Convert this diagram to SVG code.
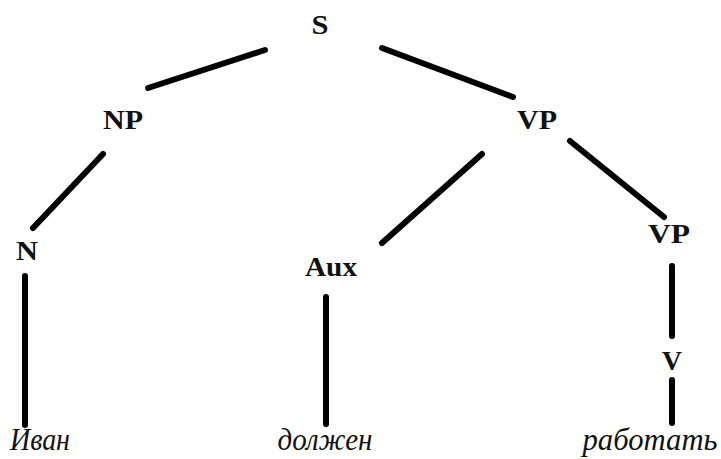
<svg xmlns="http://www.w3.org/2000/svg" width="721" height="459" viewBox="0 0 721 459">
<style>
.lbl{font-family:"Liberation Serif",serif;font-weight:bold;font-size:28px;fill:#111;text-anchor:middle}
.wrd{font-family:"Liberation Serif",serif;font-style:italic;font-size:31px;fill:#111;text-anchor:middle}
.edge{stroke:#000;stroke-width:6;stroke-linecap:round;fill:none}
</style>
<rect width="721" height="459" fill="#fff"/>
<g id="connectors">
<line class="edge" x1="148" y1="88" x2="265" y2="50"/>
<line class="edge" x1="382" y1="48" x2="513" y2="97"/>
<line class="edge" x1="103" y1="154" x2="33" y2="228"/>
<line class="edge" x1="482" y1="154" x2="382" y2="243"/>
<line class="edge" x1="570" y1="141" x2="664" y2="217"/>
<line class="edge" x1="25" y1="276" x2="25" y2="425"/>
<line class="edge" x1="326" y1="297" x2="326" y2="424"/>
<line class="edge" x1="672" y1="266" x2="672" y2="336"/>
<line class="edge" x1="672" y1="380" x2="672" y2="423"/>
</g>
<g id="S"><text class="lbl" x="320" y="34" textLength="17" lengthAdjust="spacingAndGlyphs">S</text></g>
<g id="NP"><text class="lbl" x="123" y="129" textLength="40" lengthAdjust="spacingAndGlyphs">NP</text></g>
<g id="VP1"><text class="lbl" x="537" y="129" textLength="40" lengthAdjust="spacingAndGlyphs">VP</text></g>
<g id="N"><text class="lbl" x="27" y="260" textLength="22" lengthAdjust="spacingAndGlyphs">N</text></g>
<g id="Aux"><text class="lbl" x="331" y="276" textLength="52" lengthAdjust="spacingAndGlyphs">Aux</text></g>
<g id="VP2"><text class="lbl" x="669" y="243" textLength="42" lengthAdjust="spacingAndGlyphs">VP</text></g>
<g id="V"><text class="lbl" x="672" y="370" textLength="20" lengthAdjust="spacingAndGlyphs">V</text></g>
<g id="w1"><text class="wrd" x="40" y="450" textLength="60" lengthAdjust="spacingAndGlyphs">Иван</text></g>
<g id="w2"><text class="wrd" x="325" y="450" textLength="95" lengthAdjust="spacingAndGlyphs">должен</text></g>
<g id="w3"><text class="wrd" x="650" y="450" textLength="135" lengthAdjust="spacingAndGlyphs">работать</text></g>
</svg>
